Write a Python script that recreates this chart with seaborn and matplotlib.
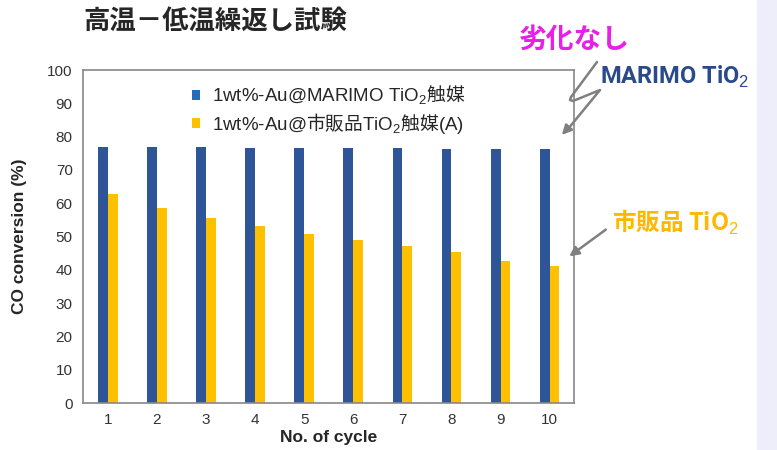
import numpy as np
import pandas as pd
import matplotlib
matplotlib.use("Agg")
import matplotlib.pyplot as plt
import seaborn as sns

# data
cycles = [1, 2, 3, 4, 5, 6, 7, 8, 9, 10]
marimo = [76.9, 76.9, 76.9, 76.7, 76.6, 76.6, 76.5, 76.3, 76.2, 76.2]
commercial = [62.8, 58.5, 55.5, 53.1, 50.7, 48.9, 47.1, 45.3, 42.6, 41.1]
# CJK parts go through \mathsf, which is mapped to the CJK font below
series_names = [r"1wt%-Au@MARIMO TiO$_2\mathsf{触媒}$",
                r"1wt%-Au@$\mathsf{市販品}$TiO$_2\mathsf{触媒}$(A)"]

df = pd.DataFrame({
    "cycle": cycles * 2,
    "value": marimo + commercial,
    "series": [series_names[0]] * len(cycles) + [series_names[1]] * len(cycles),
})

sns.set_style("white")
latin = ['Liberation Sans', 'DejaVu Sans', 'Noto Sans CJK JP']
plt.rcParams['font.family'] = ['Noto Sans CJK JP', 'DejaVu Sans']
plt.rcParams['mathtext.fontset'] = 'custom'
plt.rcParams['mathtext.rm'] = 'Liberation Sans'
plt.rcParams['mathtext.bf'] = 'Liberation Sans:bold'
plt.rcParams['mathtext.sf'] = 'Noto Sans CJK JP'

bar_blue = "#2E5597"
bar_yellow = "#FFC000"

fig = plt.figure(figsize=(7.77, 4.5), dpi=100)
fig.patch.set_facecolor("white")
ax = fig.add_axes([0.107, 0.1044, 0.632, 0.74])

sns.barplot(data=df, x="cycle", y="value", hue="series", palette=[bar_blue, bar_yellow],
            width=0.4, gap=0, saturation=1, linewidth=0, ax=ax, legend=True)

ax.set_ylim(0, 100)
ax.set_yticks(np.arange(0, 101, 10))
ax.set_xlim(-0.5, 9.5)
ax.tick_params(axis="both", labelsize=11, colors="#333333", length=4, direction="out")
ax.tick_params(axis="x", length=0, pad=7)
ax.set_xticks(np.arange(-0.5, 10, 1), minor=True)
ax.tick_params(axis="x", which="minor", length=4, color="#777777")
ax.tick_params(axis="y", color="#777777")
for lab in ax.get_xticklabels() + ax.get_yticklabels():
    lab.set_family(latin)
for s in ax.spines.values():
    s.set_color("#888888")
    s.set_linewidth(1.2)
    s.set_visible(True)

ax.set_xlabel("No. of cycle", fontsize=12.5, fontweight="bold", family=latin)
ax.xaxis.set_label_coords(0.5, -0.08)
ax.set_ylabel("CO conversion (%)", fontsize=12.5, fontweight="bold", family=latin)
ax.yaxis.set_label_coords(-0.114, 0.5)

leg = ax.legend(loc="upper center", bbox_to_anchor=(0.5, 1.01), frameon=False,
                prop={'family': latin, 'size': 13.5},
                handlelength=0.45, handleheight=0.45, handletextpad=0.6, labelspacing=0.2)
leg.legend_handles[0].set_facecolor("#1F6FC0")

fig.text(0.107, 0.952, "高温－低温繰返し試験", fontsize=19, fontweight="bold", va="center", ha="left")

fig.text(519 / 777, 1 - 40 / 450, "劣化なし", fontsize=20, fontweight="bold", color="#E81FE8",
         va="center", ha="left")
fig.text(600 / 777, 1 - 77 / 450, "MARIMO TiO$_2$", fontsize=17, fontweight="bold",
         color="#2A4A8C", va="center", ha="left", family=['Roboto', 'DejaVu Sans'])
fig.text(612 / 777, 1 - 222 / 450, "市販品 TiO$_2$", fontsize=17, fontweight="bold",
         color="#FFB800", va="center", ha="left")

# zigzag arrow for MARIMO
zx = [597, 571, 570, 573, 600, 568]
zy = [62, 97, 100, 101, 90, 129]
fig.add_artist(plt.Line2D([x / 777 for x in zx], [1 - y / 450 for y in zy],
                          transform=fig.transFigure, color="#808080", lw=1.8))
ax.annotate("", xy=(560 / 777, 1 - 137 / 450), xytext=(570 / 777, 1 - 126 / 450),
            xycoords="figure fraction", textcoords="figure fraction",
            arrowprops=dict(arrowstyle="-|>", color="#808080", lw=1.8, mutation_scale=14))
ax.annotate("", xy=(567 / 777, 1 - 258 / 450), xytext=(608 / 777, 1 - 228 / 450),
            xycoords="figure fraction", textcoords="figure fraction",
            arrowprops=dict(arrowstyle="-|>", color="#808080", lw=1.8, mutation_scale=14))

# light strip at right edge
fig.patches.append(plt.Rectangle((757 / 777, 0), 20 / 777, 1, transform=fig.transFigure,
                                 color="#EEEEFA", zorder=-1))

fig.savefig("out.png", dpi=100)
